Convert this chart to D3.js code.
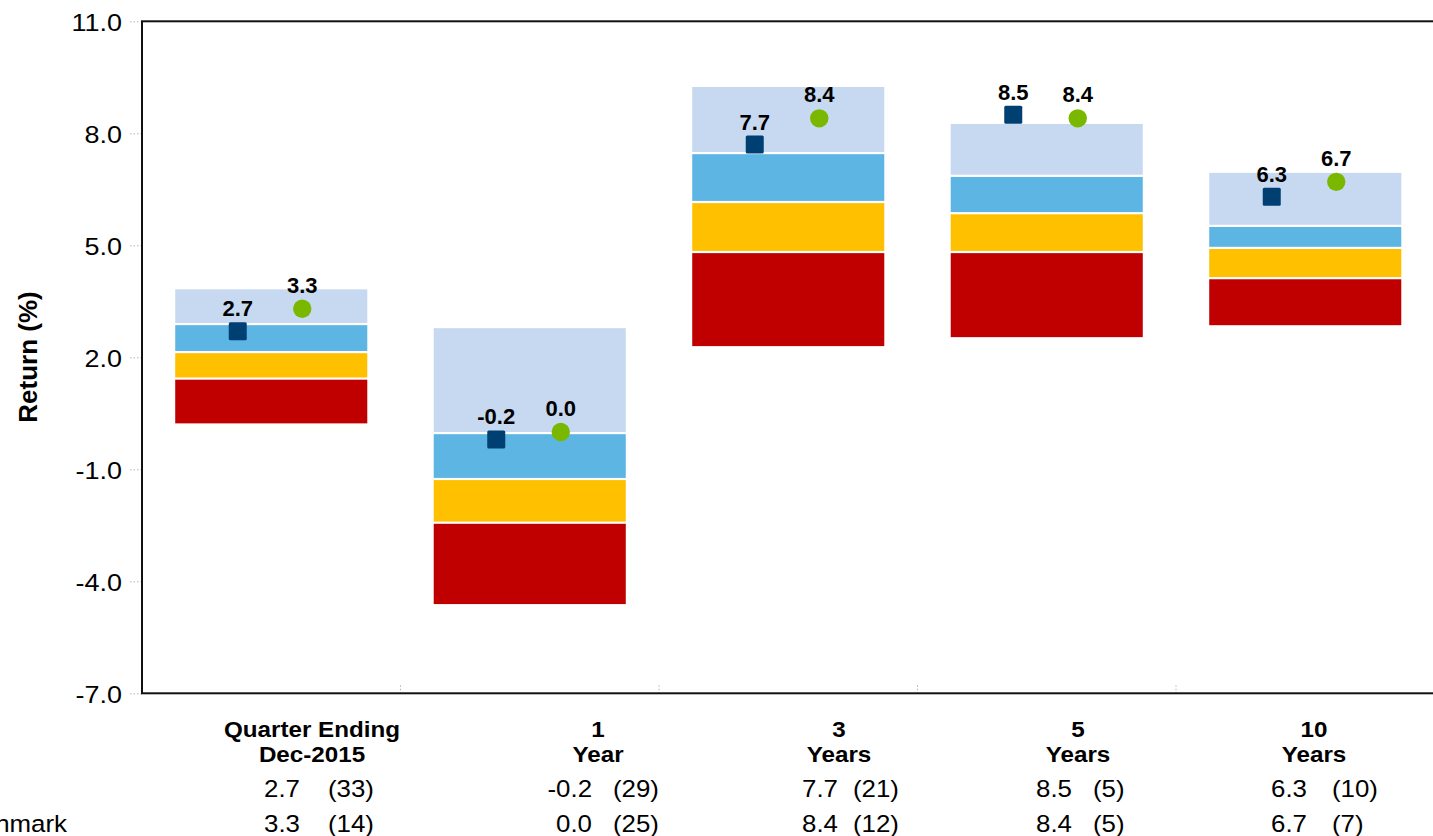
<!DOCTYPE html>
<html>
<head>
<meta charset="utf-8">
<script src="https://cdn.jsdelivr.net/npm/d3@7"></script>
<style>
  html, body { margin: 0; padding: 0; background: #fff; }
  svg { display: block; font-family: "Liberation Sans", Arial, sans-serif; }
</style>
</head>
<body>
<svg id="chart" width="1433" height="836"></svg>
<script>
// Peer-universe percentile ranges with fund and benchmark returns (%)
const catLine1 = ["Quarter Ending", "1", "3", "5", "10"];
const catLine2 = ["Dec-2015", "Year", "Years", "Years", "Years"];

// percentile breakpoints of the peer universe
const p5  = [3.82,  2.78, 9.24, 8.25, 6.94];
const p25 = [2.89, -0.03, 7.47, 6.86, 5.52];
const p50 = [2.14, -1.26, 6.16, 5.86, 4.93];
const p75 = [1.43, -2.43, 4.82, 4.82, 4.12];
const p95 = [0.23, -4.61, 2.30, 2.54, 2.86];

const fundReturn  = [2.7, -0.2, 7.7, 8.5, 6.3];
const fundRank    = [33, 29, 21, 5, 10];
const benchReturn = [3.3, 0.0, 8.4, 8.4, 6.7];
const benchRank   = [14, 25, 12, 5, 7];
const benchLabel  = "Benchmark";

const yTicks = [11, 8, 5, 2, -1, -4, -7];

// table column anchors under the plot (x of value right edge, rank left edge, heading centre)
const colValueRight = [300, 592, 838, 1072, 1307];
const colRankLeft   = [328, 613, 853, 1093, 1332];
const colHeadCenter = [312, 598, 839, 1078, 1314];

const segColors = ["#c6d9f1", "#5db5e4", "#ffc000", "#c00000"];
const fundColor = "#003f72";
const benchColor = "#7ab800";
const STRETCH = 1.1;

const svg = d3.select("#chart");
const plot = { left: 142, right: 1434.5, top: 21.3, bottom: 693.3 };

const y = d3.scaleLinear().domain([-7, 11]).range([plot.bottom, plot.top]);
const x = d3.scaleBand().domain(d3.range(catLine1.length))
  .range([plot.left, plot.right]).paddingInner(0.257).paddingOuter(0.1285);

// helper for horizontally widened text
function wideText(g, tx, ty, str, opts) {
  return g.append("text")
    .attr("transform", `translate(${tx},${ty}) scale(${opts.sx || 1},1)`)
    .attr("text-anchor", opts.anchor || "middle")
    .attr("font-size", opts.size)
    .attr("font-weight", opts.weight || "normal")
    .attr("fill", "#000")
    .text(str);
}

// y axis with dotted ticks
const yAxis = svg.append("g")
  .attr("transform", `translate(${plot.left},0)`)
  .call(d3.axisLeft(y).tickValues(yTicks).tickSize(12).tickPadding(0)
    .tickFormat(d => d.toFixed(1)));
yAxis.select(".domain").remove();
yAxis.selectAll(".tick line").attr("stroke", "#b5b5b5").attr("stroke-dasharray", "1.5,2");
yAxis.selectAll(".tick text")
  .attr("x", null).attr("dy", null)
  .attr("transform", `translate(-20,8.9) scale(${STRETCH},1)`)
  .attr("text-anchor", "end")
  .attr("font-family", "'Liberation Sans', Arial, sans-serif")
  .attr("font-size", 24.5).attr("fill", "#000");

// x slot boundaries: small dotted ticks on the bottom edge
const boundaries = d3.range(1, catLine1.length).map(i => plot.left + i * x.step());
svg.append("g").selectAll("line").data(boundaries).join("line")
  .attr("x1", d => d).attr("x2", d => d)
  .attr("y1", plot.bottom - 8).attr("y2", plot.bottom)
  .attr("stroke", "#b5b5b5").attr("stroke-dasharray", "1.5,2");

// floating percentile bars
const bars = svg.append("g");
catLine1.forEach((_, i) => {
  const edges = [p5[i], p25[i], p50[i], p75[i], p95[i]];
  for (let s = 0; s < 4; s++) {
    const top = y(edges[s]) + (s > 0 ? 1.1 : 0);
    const bot = y(edges[s + 1]) - (s < 3 ? 1.1 : 0);
    bars.append("rect")
      .attr("x", x(i)).attr("width", x.bandwidth())
      .attr("y", top).attr("height", bot - top)
      .attr("fill", segColors[s]);
  }
});

// frame
svg.append("rect")
  .attr("x", plot.left).attr("y", plot.top)
  .attr("width", plot.right - plot.left).attr("height", plot.bottom - plot.top)
  .attr("fill", "none").attr("stroke", "#111").attr("stroke-width", 2);

// fund (square) and benchmark (circle) markers with value labels
const marks = svg.append("g");
const sq = 18;
catLine1.forEach((_, i) => {
  const cx = x(i) + x.bandwidth() / 2;
  const fx = cx - 33.5, bx = cx + 31;
  marks.append("rect")
    .attr("x", fx - sq / 2).attr("y", y(fundReturn[i]) - sq / 2)
    .attr("width", sq).attr("height", sq).attr("rx", 1.5)
    .attr("fill", fundColor);
  marks.append("circle")
    .attr("cx", bx).attr("cy", y(benchReturn[i])).attr("r", 9.2)
    .attr("fill", benchColor);
  wideText(marks, fx, y(fundReturn[i]) - 15, fundReturn[i].toFixed(1),
    { size: 22, weight: "bold" });
  wideText(marks, bx, y(benchReturn[i]) - 16, benchReturn[i].toFixed(1),
    { size: 22, weight: "bold" });
});

// y axis title
svg.append("text")
  .attr("transform", `translate(37,357) rotate(-90)`)
  .attr("text-anchor", "middle")
  .attr("font-size", 26).attr("font-weight", "bold")
  .text("Return (%)");

// table of headings, values and ranks
const table = svg.append("g");
catLine1.forEach((_, i) => {
  wideText(table, colHeadCenter[i], 736.5, catLine1[i], { size: 22, weight: "bold", sx: STRETCH });
  wideText(table, colHeadCenter[i], 762.3, catLine2[i], { size: 22, weight: "bold", sx: STRETCH });
  wideText(table, colValueRight[i], 796.7, fundReturn[i].toFixed(1), { size: 23.5, anchor: "end", sx: STRETCH });
  wideText(table, colRankLeft[i], 796.7, `(${fundRank[i]})`, { size: 23.5, anchor: "start", sx: STRETCH });
  wideText(table, colValueRight[i], 831.7, benchReturn[i].toFixed(1), { size: 23.5, anchor: "end", sx: STRETCH });
  wideText(table, colRankLeft[i], 831.7, `(${benchRank[i]})`, { size: 23.5, anchor: "start", sx: STRETCH });
});
wideText(table, 67, 831.7, benchLabel, { size: 23.5, anchor: "end", sx: STRETCH });
</script>
</body>
</html>
